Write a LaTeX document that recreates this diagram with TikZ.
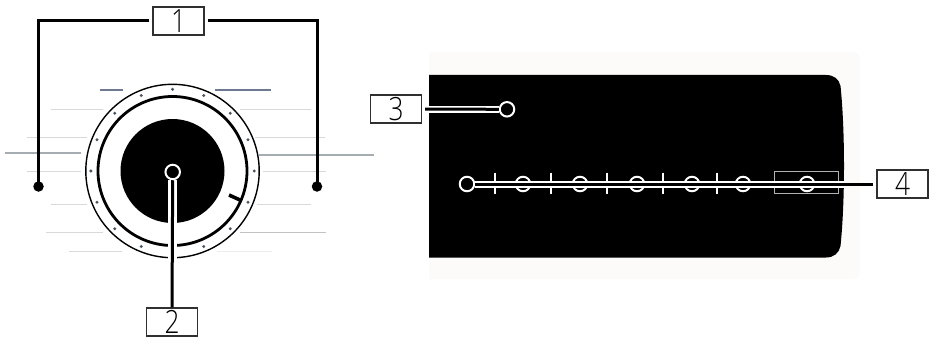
\documentclass[tikz,border=0pt]{standalone}
\usepackage{fontspec}
\setmainfont{Open Sans Light}
\definecolor{boxedge}{HTML}{303030}
\definecolor{panelbg}{HTML}{FDFBFA}
\definecolor{fadeline}{HTML}{D8DADA}
\definecolor{midline}{HTML}{A6ADB0}
\definecolor{darkline}{HTML}{6E7890}
\definecolor{dotcol}{HTML}{4A5560}
\newcommand{\numtext}[1]{\scalebox{0.82}[1]{#1}}
\tikzset{
  numbox/.style={draw=boxedge,line width=1.4pt,fill=white,minimum width=51pt,minimum height=28pt,inner sep=0pt,text height=23pt,text depth=0pt,font=\fontsize{32}{32}\selectfont},
  ringmark/.style={circle,draw=white,line width=2pt,fill=black,minimum size=14.5pt,inner sep=0pt},
  tickmark/.style={draw=white,line width=1.6pt},
  leaderline/.style={draw=black,line width=3pt},
  halo/.style={draw=white,line width=7pt},
  wideline/.style={draw=white,line width=8.5pt},
  faded/.style={draw=fadeline,line width=1pt},
  mid/.style={draw=midline,line width=1.2pt},
  dark/.style={draw=darkline,line width=1.2pt},
  enddot/.style={circle,fill=black,minimum size=10.5pt,inner sep=0pt},
}
\begin{document}
\begin{tikzpicture}[x=1pt,y=-1pt]
\useasboundingbox (0,0) rectangle (932,337);
\fill[white] (0,0) rectangle (932,337);

% background hatch lines, left view
\draw[dark] (99.5,90) -- (123,90);
\draw[dark] (215,90) -- (271,90);
\draw[faded] (51,109) -- (103,109);
\draw[faded] (240,109) -- (311,109);
\draw[faded] (27,137) -- (87,137);
\draw[faded] (255,137) -- (325,137);
\draw[mid] (5,153) -- (81,153);
\draw[mid] (259,155) -- (374,155);
\draw[faded] (27,171) -- (81,171);
\draw[faded] (263,171) -- (326,171);
\draw[faded] (51,204) -- (87,204);
\draw[faded] (257,204) -- (311,204);
\draw[faded] (46,232) -- (103,232);
\draw[faded,draw=fadeline!90!black] (240,232) -- (326,232);
\draw[faded] (69,251) -- (122,251);
\draw[draw=fadeline!50,line width=1pt] (217,251) -- (272,251);

% dial
\draw[black,line width=1.4pt,fill=white] (172.5,171) circle (86.7);
\draw[black,line width=2.8pt] (172.5,171) circle (74.5);
\fill[black] (172.5,171) circle (52);
\foreach \a in {0,22.5,...,337.5}
  \fill[dotcol] ({172.5+81.7*cos(\a)},{171+81.7*sin(\a)}) circle (1.7);
\draw[black,line width=3.6pt] (229,195) -- (240,200);

% right panel
\fill[panelbg] (429,52) -- (852,52) .. controls (857,52) and (860,55) .. (860,60) -- (860,271) .. controls (860,276) and (857,279) .. (852,279) -- (429,279) -- cycle;
\fill[black] (429,75) -- (826,75) .. controls (834,75) and (839,79) .. (840.5,86)
  .. controls (843,110) and (844,140) .. (844,166)
  .. controls (844,192) and (843,222) .. (840.5,246)
  .. controls (839,253) and (834,257.5) .. (826,257.5) -- (429,257.5) -- cycle;

% labelled boxes
\node[numbox] (b1) at (178.5,21) {\numtext{1}};
\node[numbox] (b2) at (172,322) {\numtext{2}};
\node[numbox] (b3) at (396,109) {\numtext{3}};
\node[numbox] (b4) at (902.5,184) {\numtext{4}};

% end dots of label 1
\node[enddot] (dl) at (38.5,186.5) {};
\node[enddot] (dr) at (317,186.5) {};
\draw[leaderline,shorten <=3pt] (b1.west) -- (38.5,21) -- (dl.center);
\draw[leaderline,shorten <=3pt] (b1.east) -- (317,21) -- (dr.center);

% label 2
\node[ringmark] (hub) at (172.7,172) {};
\draw[wideline] (hub.south) -- (172.7,262);
\draw[leaderline] (hub.south) -- (b2.north);

% label 3
\node[ringmark] (m3) at (507,109.3) {};
\draw[halo] (m3.west) -- (429,109.3) coordinate (m3edge);
\draw[leaderline,shorten >=3pt] (m3.west) -- (b3.east);

% row of marks and label 4
\node[ringmark] (r1) at (467,184) {};
\node[ringmark] (r2) at (523,184) {};
\node[ringmark] (r3) at (580,184) {};
\node[ringmark] (r4) at (637,184) {};
\node[ringmark] (r5) at (692,184) {};
\node[ringmark] (r6) at (743,184) {};
\node[ringmark] (r7) at (807,184) {};
\foreach \x in {495,551,607,663,717}
  \draw[tickmark] (\x,172.5) -- (\x,193.5);
\node[draw=white!70!black,line width=1pt,minimum width=64pt,minimum height=22pt,inner sep=0pt] (frame) at (806,182) {};
\coordinate (r4edge) at (844,184);
\draw[halo] (r1.east) -- (r4edge);
\draw[leaderline,shorten >=3pt] (r1.east) -- (b4.west);
\end{tikzpicture}
\end{document}
